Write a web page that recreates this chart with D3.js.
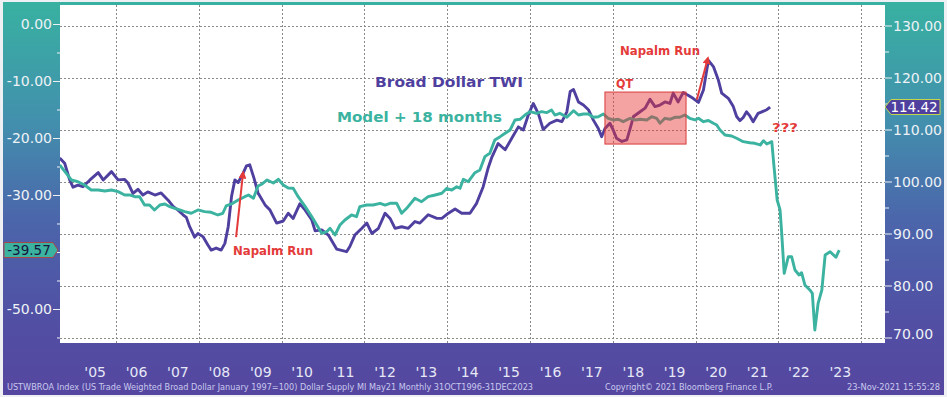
<!DOCTYPE html>
<html>
<head>
<meta charset="utf-8">
<script src="https://cdn.jsdelivr.net/npm/d3@7"></script>
<style>
html, body { margin: 0; padding: 0; background: #fff; }
svg { display: block; }
</style>
</head>
<body>
<svg id="chart" width="947" height="397"></svg>
<script>
const width = 947;
const height = 397;

// Broad Dollar TWI, right axis (decimal years)
const twiYears = [
  2004.64,2004.76,2004.88,2004.96,2005.08,2005.20,2005.37,2005.57,2005.69,2005.89,
  2006.05,2006.21,2006.29,2006.41,2006.53,2006.65,2006.77,2006.94,2007.09,2007.26,
  2007.38,2007.50,2007.62,2007.70,2007.78,2007.90,2007.98,2008.10,2008.22,2008.30,
  2008.42,2008.54,2008.63,2008.71,2008.79,2008.87,2008.95,2009.07,2009.15,2009.23,
  2009.33,2009.43,2009.60,2009.72,2009.88,2010.04,2010.16,2010.28,2010.44,2010.57,
  2010.73,2010.81,2010.97,2011.13,2011.33,2011.57,2011.65,2011.77,2011.94,2012.06,
  2012.18,2012.34,2012.50,2012.62,2012.74,2012.90,2013.06,2013.22,2013.34,2013.54,
  2013.75,2013.87,2014.03,2014.19,2014.35,2014.55,2014.71,2014.87,2014.99,2015.08,
  2015.15,2015.23,2015.40,2015.56,2015.72,2015.84,2015.96,2016.08,2016.20,2016.32,
  2016.48,2016.65,2016.77,2016.89,2016.97,2017.05,2017.17,2017.29,2017.41,2017.53,
  2017.65,2017.73,2017.81,2017.93,2018.01,2018.09,2018.22,2018.34,2018.42,2018.50,
  2018.66,2018.78,2018.90,2019.02,2019.14,2019.26,2019.38,2019.46,2019.58,2019.70,
  2019.82,2019.94,2020.07,2020.19,2020.31,2020.43,2020.55,2020.63,2020.79,2020.91,
  2020.99,2021.07,2021.15,2021.23,2021.31,2021.39,2021.51,2021.60,2021.72,2021.80
];
const twiValues = [
  104.6,103.6,100.4,99.0,99.4,99.1,100.4,101.8,100.4,102.0,
  100.4,100.5,99.8,97.8,98.6,97.5,98.1,97.5,97.9,96.5,
  95.3,94.6,93.7,93.2,91.4,89.4,90.1,89.5,87.9,86.9,
  87.3,86.9,88.2,91.4,97.2,100.4,99.9,101.7,103.1,103.3,
  100.8,97.9,95.6,94.6,92.1,92.5,94.0,93.0,95.8,94.6,
  92.7,90.6,90.8,89.8,87.1,86.6,87.6,89.8,91.1,92.1,
  90.1,91.1,94.0,93.0,91.1,91.4,91.1,92.4,92.1,93.7,
  93.0,93.0,94.0,94.8,94.0,94.0,95.9,99.1,102.7,104.8,
  106.0,107.4,106.2,108.4,110.6,110.0,112.9,115.1,113.2,110.1,
  111.3,111.9,111.6,113.5,117.4,117.8,115.4,114.8,113.9,111.9,
  110.3,108.7,110.3,111.3,110.0,108.4,107.8,108.1,110.3,112.6,
  113.5,114.2,115.9,114.5,114.8,115.4,115.1,117.1,115.4,117.2,
  116.7,116.1,115.3,117.7,123.4,122.2,119.6,117.1,116.1,114.5,
  112.6,111.8,112.4,113.5,112.7,111.6,113.2,113.5,113.9,114.42
];

// Dollar supply model + 18 months, left axis
const modelYears = [
  2004.64,2004.80,2004.92,2005.08,2005.24,2005.40,2005.57,2005.73,2005.89,2006.05,
  2006.21,2006.33,2006.45,2006.57,2006.69,2006.81,2006.93,2007.06,2007.18,2007.30,
  2007.42,2007.54,2007.66,2007.82,2007.98,2008.14,2008.30,2008.46,2008.58,2008.66,
  2008.79,2008.95,2009.11,2009.20,2009.32,2009.43,2009.53,2009.65,2009.80,2009.92,
  2010.04,2010.16,2010.28,2010.40,2010.57,2010.73,2010.85,2010.97,2011.09,2011.17,
  2011.29,2011.41,2011.53,2011.69,2011.81,2011.89,2012.06,2012.21,2012.38,2012.50,
  2012.62,2012.78,2012.90,2013.02,2013.22,2013.38,2013.54,2013.71,2013.87,2013.99,
  2014.11,2014.23,2014.31,2014.39,2014.51,2014.67,2014.79,2014.91,2015.03,2015.15,
  2015.28,2015.40,2015.52,2015.64,2015.76,2015.88,2016.00,2016.16,2016.28,2016.40,
  2016.52,2016.60,2016.72,2016.89,2017.05,2017.17,2017.29,2017.41,2017.53,2017.65,
  2017.77,2017.89,2018.01,2018.13,2018.25,2018.42,2018.54,2018.66,2018.82,2018.94,
  2019.06,2019.14,2019.26,2019.38,2019.50,2019.62,2019.74,2019.86,2019.99,2020.07,
  2020.19,2020.31,2020.43,2020.51,2020.59,2020.71,2020.87,2020.99,2021.15,2021.31,
  2021.43,2021.56,2021.64,2021.72,2021.84,2021.89,2021.97,2022.04,2022.08,2022.12,
  2022.14,2022.24,2022.32,2022.40,2022.50,2022.56,2022.64,2022.76,2022.82,2022.88,
  2022.96,2023.05,2023.13,2023.25,2023.39,2023.47
];
const modelValues = [
  -24.65,-26.11,-27.28,-27.58,-28.16,-29.04,-29.04,-29.21,-29.04,-29.33,
  -29.91,-29.91,-30.21,-30.21,-31.67,-31.67,-32.54,-31.67,-31.49,-31.96,
  -32.25,-32.54,-32.84,-33.12,-32.54,-32.84,-32.95,-33.42,-33.12,-31.84,
  -31.49,-30.79,-30.21,-29.91,-30.49,-28.33,-27.98,-27.28,-27.81,-27.16,
  -28.16,-28.68,-28.74,-30.21,-31.96,-33.72,-35.18,-36.63,-36.35,-35.75,
  -36.93,-35.18,-34.30,-33.42,-33.72,-31.96,-31.67,-31.67,-31.37,-31.67,
  -31.37,-31.37,-33.12,-32.25,-30.49,-31.09,-30.21,-29.91,-29.61,-28.74,
  -29.04,-28.46,-28.74,-27.16,-27.58,-26.00,-25.53,-23.19,-22.60,-20.26,
  -19.68,-19.09,-18.51,-16.75,-16.63,-15.88,-15.30,-15.58,-15.30,-15.47,
  -15.00,-15.88,-15.58,-16.28,-15.12,-15.88,-15.70,-15.70,-16.28,-16.18,
  -15.70,-16.46,-16.75,-16.63,-17.05,-16.46,-16.75,-16.63,-16.75,-16.18,
  -16.46,-17.33,-16.46,-16.63,-16.28,-16.28,-15.88,-16.46,-16.75,-16.46,
  -17.05,-16.84,-17.33,-17.63,-18.51,-19.39,-19.56,-19.96,-20.56,-20.74,
  -20.84,-21.14,-20.39,-20.96,-20.56,-24.65,-30.79,-32.54,-36.63,-41.32,
  -43.65,-40.74,-40.74,-43.07,-43.95,-43.54,-45.70,-46.58,-47.16,-53.60,
  -48.91,-46.58,-40.44,-39.86,-40.84,-39.57
];

const leftTicks = [0, -10, -20, -30, -40, -50];
const leftMinor = [-5, -15, -25, -35, -45, -55];
const rightTicks = [130, 120, 110, 100, 90, 80, 70];
const rightMinor = [125, 115, 105, 95, 85, 75];
const labelYears = d3.range(2005, 2024);

const footerLeft = 'USTWBROA Index (US Trade Weighted Broad Dollar January 1997=100) Dollar Supply MI May21  Monthly 31OCT1996-31DEC2023';
const footerMid = 'Copyright\u00a9 2021 Bloomberg Finance L.P.';
const footerRight = '23-Nov-2021 15:55:28';

const purple = '#4f3f9f';
const teal = '#3bb3a0';
const red = '#e43a3a';
const font = "'DejaVu Sans', Verdana, sans-serif";

const plot = {left: 60, right: 885, top: 5, bottom: 343};

// plain hyphen, not the unicode minus d3.format gives
function fmt(v) {
    return v.toFixed(2);
}

function toDate(y) {
    const yr = Math.floor(y);
    const a = new Date(yr, 0, 1), b = new Date(yr + 1, 0, 1);
    return new Date(+a + (y - yr) * (b - a));
}

const x = d3.scaleTime()
            .domain([toDate(2004.647), toDate(2024.575)])
            .range([plot.left, plot.right]);
const yR = d3.scaleLinear().domain([69.04, 134.04]).range([plot.bottom, plot.top]);
const yL = d3.scaleLinear().domain([-55.88, 3.42]).range([plot.bottom, plot.top]);

const twi = twiYears.map(function(t, i) { return {date: toDate(t), v: twiValues[i]}; });
const model = modelYears.map(function(t, i) { return {date: toDate(t), v: modelValues[i]}; });

const svg = d3.select('#chart');
const defs = svg.append('defs');

const grad = defs.append('linearGradient')
                 .attr('id', 'bg')
                 .attr('x1', 0).attr('y1', 0).attr('x2', 0).attr('y2', 1);
[[0, '#38b1a1'], [0.3, '#4290ad'], [0.55, '#4b66ab'], [0.8, '#5150a4'], [1, '#5546a0']]
    .forEach(function(s) {
        grad.append('stop').attr('offset', s[0]).attr('stop-color', s[1]);
    });

defs.append('clipPath').attr('id', 'plotclip')
    .append('rect')
    .attr('x', plot.left).attr('y', plot.top)
    .attr('width', plot.right - plot.left).attr('height', plot.bottom - plot.top);

defs.append('marker')
    .attr('id', 'arrow')
    .attr('viewBox', '0 0 10 10')
    .attr('refX', 8).attr('refY', 5)
    .attr('markerWidth', 4).attr('markerHeight', 4)
    .attr('orient', 'auto')
    .append('path')
    .attr('d', 'M0,0 L10,5 L0,10 z')
    .attr('fill', red);

// background + frame
svg.append('rect').attr('width', width).attr('height', height).attr('fill', '#eef0f4');
svg.append('rect')
   .attr('x', 3).attr('y', 2)
   .attr('width', width - 6).attr('height', height - 4)
   .attr('fill', 'url(#bg)');

// plot area
svg.append('rect')
   .attr('x', plot.left).attr('y', plot.top)
   .attr('width', plot.right - plot.left).attr('height', plot.bottom - plot.top)
   .attr('fill', '#ffffff');

// grid
const grid = svg.append('g')
                .attr('stroke', '#8a8a8a')
                .attr('stroke-width', 1)
                .attr('stroke-dasharray', '2,2');

grid.selectAll('line.h')
    .data(rightTicks)
    .join('line')
    .attr('class', 'h')
    .attr('x1', plot.left).attr('x2', plot.right)
    .attr('y1', function(d) { return Math.round(yR(d)) + 0.5; })
    .attr('y2', function(d) { return Math.round(yR(d)) + 0.5; });

grid.selectAll('line.v')
    .data(d3.timeYear.range(new Date(2006, 0, 1), new Date(2025, 0, 1), 2))
    .join('line')
    .attr('class', 'v')
    .attr('y1', plot.top).attr('y2', plot.bottom)
    .attr('x1', function(d) { return Math.round(x(d)) + 0.5; })
    .attr('x2', function(d) { return Math.round(x(d)) + 0.5; });

// series
const lines = svg.append('g').attr('clip-path', 'url(#plotclip)');

lines.append('path')
     .datum(twi)
     .attr('fill', 'none')
     .attr('stroke', purple)
     .attr('stroke-width', 2.9)
     .attr('stroke-linejoin', 'round')
     .attr('d', d3.line().x(function(d) { return x(d.date); }).y(function(d) { return yR(d.v); }));

lines.append('path')
     .datum(model)
     .attr('fill', 'none')
     .attr('stroke', teal)
     .attr('stroke-width', 2.9)
     .attr('stroke-linejoin', 'round')
     .attr('d', d3.line().x(function(d) { return x(d.date); }).y(function(d) { return yL(d.v); }));

// QT box (sits over the lines)
const qt = {from: 2017.81, to: 2019.77, top: 117.3, bottom: 107.3};
svg.append('rect')
   .attr('x', x(toDate(qt.from)))
   .attr('y', yR(qt.top))
   .attr('width', x(toDate(qt.to)) - x(toDate(qt.from)))
   .attr('height', yR(qt.bottom) - yR(qt.top))
   .attr('fill', 'rgba(232,48,48,0.45)')
   .attr('stroke', '#d83a3a')
   .attr('stroke-width', 1);

// arrows
const arrows = [
    {x0: 2008.90, y0: 89.4, x1: 2009.07, y1: 101.9},
    {x0: 2020.03, y0: 115.8, x1: 2020.30, y1: 123.9}
];
svg.selectAll('line.arrow')
   .data(arrows)
   .join('line')
   .attr('class', 'arrow')
   .attr('x1', function(d) { return x(toDate(d.x0)); })
   .attr('y1', function(d) { return yR(d.y0); })
   .attr('x2', function(d) { return x(toDate(d.x1)); })
   .attr('y2', function(d) { return yR(d.y1); })
   .attr('stroke', red)
   .attr('stroke-width', 2)
   .attr('marker-end', 'url(#arrow)');

// text notes
const notes = [
    {text: 'Broad Dollar TWI', t: 2012.256, v: 118.2, color: purple, size: 14.5, len: 148},
    {text: 'Model + 18 months', t: 2011.338, v: 111.5, color: teal, size: 14.5, len: 165},
    {text: 'Napalm Run', t: 2008.826, v: 85.9, color: red, size: 11.5, len: 80},
    {text: 'Napalm Run', t: 2018.174, v: 124.4, color: red, size: 11.5, len: 80},
    {text: 'QT', t: 2018.077, v: 118.1, color: red, size: 12, len: 17},
    {text: '???', t: 2021.845, v: 109.6, color: red, size: 12, len: 26}
];
svg.selectAll('text.note')
   .data(notes)
   .join('text')
   .attr('class', 'note')
   .attr('x', function(d) { return x(toDate(d.t)); })
   .attr('y', function(d) { return yR(d.v); })
   .attr('font-family', font)
   .attr('font-weight', 'bold')
   .attr('font-size', function(d) { return d.size; })
   .attr('textLength', function(d) { return d.len; })
   .attr('lengthAdjust', 'spacingAndGlyphs')
   .attr('fill', function(d) { return d.color; })
   .text(function(d) { return d.text; });

// left axis
const axisColor = '#eef2f6';
const left = svg.append('g');
left.selectAll('line.maj')
    .data(leftTicks)
    .join('line')
    .attr('x1', 53).attr('x2', plot.left)
    .attr('y1', function(d) { return yL(d); })
    .attr('y2', function(d) { return yL(d); })
    .attr('stroke', axisColor).attr('stroke-width', 1);
left.selectAll('line.min')
    .data(leftMinor.filter(function(d) { return yL(d) < plot.bottom; }))
    .join('line')
    .attr('class', 'min')
    .attr('x1', 57).attr('x2', plot.left)
    .attr('y1', function(d) { return yL(d); })
    .attr('y2', function(d) { return yL(d); })
    .attr('stroke', axisColor).attr('stroke-width', 1);
left.selectAll('text')
    .data(leftTicks.filter(function(d) { return d !== -40; }))
    .join('text')
    .attr('x', 52)
    .attr('y', function(d) { return yL(d); })
    .attr('dy', '0.35em')
    .attr('text-anchor', 'end')
    .attr('font-family', font)
    .attr('font-size', 14)
    .attr('fill', axisColor)
    .text(fmt);

// right axis
const right = svg.append('g');
right.selectAll('line.maj')
     .data(rightTicks)
     .join('line')
     .attr('x1', plot.right).attr('x2', plot.right + 7)
     .attr('y1', function(d) { return yR(d); })
     .attr('y2', function(d) { return yR(d); })
     .attr('stroke', axisColor).attr('stroke-width', 1);
right.selectAll('line.min')
     .data(rightMinor)
     .join('line')
     .attr('class', 'min')
     .attr('x1', plot.right).attr('x2', plot.right + 4)
     .attr('y1', function(d) { return yR(d); })
     .attr('y2', function(d) { return yR(d); })
     .attr('stroke', axisColor).attr('stroke-width', 1);
right.selectAll('text')
     .data(rightTicks)
     .join('text')
     .attr('x', plot.right + 8)
     .attr('y', function(d) { return Math.min(yR(d), 334); })
     .attr('dy', '0.35em')
     .attr('font-family', font)
     .attr('font-size', 14)
     .attr('fill', axisColor)
     .text(fmt);

// last value tags
const lastModel = modelValues[modelValues.length - 1];
const lastTwi = twiValues[twiValues.length - 1];
const ly = yL(lastModel);
svg.append('path')
   .attr('d', 'M4,' + (ly - 7.5) + 'H53L58,' + ly + 'L53,' + (ly + 7.5) + 'H4Z')
   .attr('fill', teal)
   .attr('stroke', '#a84848')
   .attr('stroke-width', 1);
svg.append('text')
   .attr('x', 29).attr('y', ly).attr('dy', '0.36em')
   .attr('text-anchor', 'middle')
   .attr('font-family', font).attr('font-size', 13.5)
   .attr('fill', '#16163c')
   .text(fmt(lastModel));

const ry = yR(lastTwi);
svg.append('path')
   .attr('d', 'M' + plot.right + ',' + ry + 'L' + (plot.right + 6) + ',' + (ry - 7.5) + 'H940V' + (ry + 7.5) + 'H' + (plot.right + 6) + 'Z')
   .attr('fill', purple)
   .attr('stroke', '#c6d84a')
   .attr('stroke-width', 1);
svg.append('text')
   .attr('x', 914).attr('y', ry).attr('dy', '0.36em')
   .attr('text-anchor', 'middle')
   .attr('font-family', font).attr('font-size', 13.5)
   .attr('fill', '#ffffff')
   .text(fmt(lastTwi));

// year labels
svg.selectAll('text.year')
   .data(labelYears)
   .join('text')
   .attr('class', 'year')
   .attr('x', function(d) { return x(new Date(d, 6, 1)); })
   .attr('y', 377)
   .attr('text-anchor', 'middle')
   .attr('font-family', font)
   .attr('font-size', 14)
   .attr('fill', '#e6e8f6')
   .text(function(d) { return "'" + String(d).slice(2); });

// footer
const foot = svg.append('g')
                .attr('font-family', font)
                .attr('font-size', 8)
                .attr('fill', '#c9c9ee');
foot.append('text').attr('x', 7).attr('y', 390)
    .attr('textLength', 526).attr('lengthAdjust', 'spacingAndGlyphs')
    .text(footerLeft);
foot.append('text').attr('x', 605).attr('y', 390)
    .attr('textLength', 168).attr('lengthAdjust', 'spacingAndGlyphs')
    .text(footerMid);
foot.append('text').attr('x', 847).attr('y', 390)
    .attr('textLength', 93).attr('lengthAdjust', 'spacingAndGlyphs')
    .text(footerRight);
</script>
</body>
</html>
